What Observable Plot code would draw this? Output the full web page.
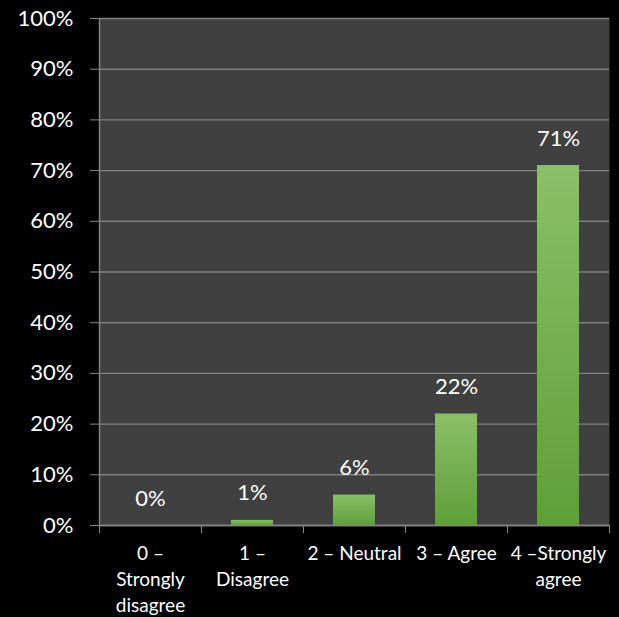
<!DOCTYPE html>
<html><head><meta charset="utf-8">
<script src="https://cdn.jsdelivr.net/npm/d3@7"></script>
<script src="https://cdn.jsdelivr.net/npm/@observablehq/plot@0.6"></script>
<style>
html,body{margin:0;padding:0;background:#000;}
#chart svg{display:block;}
</style></head><body><div id="chart"></div>
<script>
const categories = ["0 –\nStrongly\ndisagree", "1 –\nDisagree", "2 – Neutral", "3 – Agree", "4 –Strongly\nagree"];
const values = [0, 1, 6, 22, 71];
const valueLabels = ["0%", "1%", "6%", "22%", "71%"];
const yTicks = [0, 10, 20, 30, 40, 50, 60, 70, 80, 90, 100];

const data = categories.map((c, i) => ({category: c, value: values[i], label: valueLabels[i]}));

const gridColor = "#808080";
const axisColor = "#868686";
const half = 51;

const gradientDefs = () => {
  const defs = d3.create("svg:defs");
  const g = defs.append("linearGradient").attr("id", "barGrad")
    .attr("x1", 0).attr("y1", 0).attr("x2", 0).attr("y2", 1);
  g.append("stop").attr("offset", "0%").attr("stop-color", "#8bbf69");
  g.append("stop").attr("offset", "100%").attr("stop-color", "#5e9f37");
  return defs.node();
};

const chart = Plot.plot({
  width: 619,
  height: 617,
  marginLeft: 99,
  marginRight: 10,
  marginTop: 18,
  marginBottom: 92,
  style: {background: "#000", color: "#fff", fontFamily: "Lato, sans-serif", fontWeight: 400},
  x: {domain: categories, paddingInner: 0.59, paddingOuter: 0.295, label: null},
  y: {domain: [0, 100], label: null},
  marks: [
    gradientDefs,
    Plot.frame({fill: "#404040", stroke: null}),
    Plot.gridY(yTicks, {stroke: gridColor, strokeOpacity: 1, strokeWidth: 1.4}),
    Plot.axisY(yTicks, {tickSize: 9, tickPadding: 17, tickFormat: d => d + "%", stroke: axisColor, fill: "#fff", fontSize: 22}),
    Plot.barY(data, {x: "category", y: "value", fill: "url(#barGrad)"}),
    Plot.ruleX([categories[0]], {x: d => d, dx: -half, stroke: axisColor, strokeWidth: 1.4}),
    Plot.ruleY([0], {stroke: axisColor, strokeWidth: 1.4}),
    Plot.axisX({tickSize: 8, tickFormat: () => "", dx: -half, stroke: axisColor}),
    Plot.axisX([categories[categories.length - 1]], {tickSize: 8, tickFormat: () => "", dx: half, stroke: axisColor}),
    Plot.axisX({tickSize: 0, tickPadding: 16, fontSize: 19, lineHeight: 1.37, fill: "#fff"}),
    Plot.text(data, {x: "category", y: "value", text: "label", dy: -27, fontSize: 22, fill: "#fff"})
  ]
});
document.getElementById("chart").appendChild(chart);
</script>
</body></html>
